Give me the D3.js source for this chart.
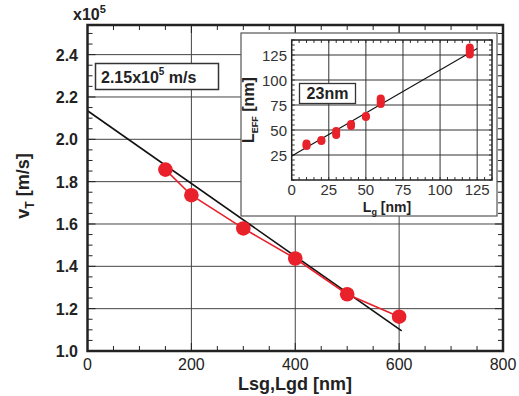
<!DOCTYPE html>
<html>
<head>
<meta charset="utf-8">
<style>
body { margin: 0; background: #fff; }
svg { font-family: "Liberation Sans", Arial, sans-serif; }
</style>
<script src="https://cdn.jsdelivr.net/npm/d3@7"></script>
</head>
<body>
<svg id="chart" width="519" height="396"></svg>
<script>
// main plot data
var lengths = [150, 200, 300, 400, 500, 600];
var vt = [1.857, 1.736, 1.579, 1.437, 1.268, 1.162];
var fitX = [0, 605];
var fitY = [2.135, 1.095];
var xTicks = [0, 200, 400, 600, 800];
var yTicks = [1.0, 1.2, 1.4, 1.6, 1.8, 2.0, 2.2, 2.4];

// inset data (several measurements per gate length)
var lg = [10, 10, 10, 20, 20, 30, 30, 30, 40, 40, 50, 50, 60, 60, 60, 60, 120, 120, 120, 120];
var leff = [34, 35, 36.5, 39, 40, 45, 47, 49, 54, 56, 63, 64, 76, 78, 80, 81.5, 125.5, 128, 130.5, 132.5];
var insetFitX = [0, 125];
var insetFitY = [24, 131.5];
var insetTicks = [0, 25, 50, 75, 100, 125];

var red = "#e8212b";
var svg = d3.select("#chart");

var x = d3.scaleLinear().domain([0, 800]).range([87.5, 503]);
var y = d3.scaleLinear().domain([1.0, 2.54]).range([351, 25]);

// gridlines
var g = svg.append("g");
g.selectAll(".gx").data([200, 400, 600]).enter().append("line")
  .attr("x1", d => x(d)).attr("x2", d => x(d))
  .attr("y1", y.range()[0]).attr("y2", y.range()[1])
  .attr("stroke", "#444").attr("stroke-width", 1);
g.selectAll(".gy").data(yTicks.slice(1)).enter().append("line")
  .attr("x1", x.range()[0]).attr("x2", x.range()[1])
  .attr("y1", d => y(d)).attr("y2", d => y(d))
  .attr("stroke", "#444").attr("stroke-width", 1);

// minor ticks on all four sides, pointing in
var xMinor = d3.range(0, 801, 50);
var yMinor = d3.range(1.0, 2.54, 0.05);
g.selectAll(".tb").data(xMinor).enter().append("line")
  .attr("x1", d => x(d)).attr("x2", d => x(d))
  .attr("y1", 351).attr("y2", d => d % 200 == 0 ? 351 - 8 : 351 - 5)
  .attr("stroke", "#222");
g.selectAll(".tt").data(xMinor).enter().append("line")
  .attr("x1", d => x(d)).attr("x2", d => x(d))
  .attr("y1", 25).attr("y2", d => d % 200 == 0 ? 25 + 8 : 25 + 5)
  .attr("stroke", "#222");
g.selectAll(".tl").data(yMinor).enter().append("line")
  .attr("x1", 87.5).attr("x2", (d, i) => i % 4 == 0 ? 87.5 + 8 : 87.5 + 5)
  .attr("y1", d => y(d)).attr("y2", d => y(d))
  .attr("stroke", "#222");
g.selectAll(".tr").data(yMinor).enter().append("line")
  .attr("x1", 503).attr("x2", (d, i) => i % 4 == 0 ? 503 - 8 : 503 - 5)
  .attr("y1", d => y(d)).attr("y2", d => y(d))
  .attr("stroke", "#222");

// fit line and data
svg.append("line")
  .attr("x1", x(fitX[0])).attr("y1", y(fitY[0]))
  .attr("x2", x(fitX[1])).attr("y2", y(fitY[1]))
  .attr("stroke", "#111").attr("stroke-width", 1.6);
svg.append("path")
  .attr("d", d3.line().x(d => x(d[0])).y(d => y(d[1]))(lengths.map((d, i) => [d, vt[i]])))
  .attr("fill", "none").attr("stroke", red).attr("stroke-width", 1.6);
svg.selectAll(".pt").data(lengths).enter().append("circle")
  .attr("cx", d => x(d)).attr("cy", (d, i) => y(vt[i])).attr("r", 7.3)
  .attr("fill", red);

// frame
svg.append("rect").attr("x", 87.5).attr("y", 25).attr("width", 503 - 87.5).attr("height", 326)
  .attr("fill", "none").attr("stroke", "#222").attr("stroke-width", 2.5);

// tick labels
svg.selectAll(".xl").data(xTicks).enter().append("text")
  .attr("x", d => x(d)).attr("y", 370).attr("text-anchor", "middle")
  .attr("font-size", 16).attr("fill", "#222").text(d => d);
svg.selectAll(".yl").data(yTicks).enter().append("text")
  .attr("x", 78).attr("y", d => y(d) + 6).attr("text-anchor", "end")
  .attr("font-size", 16).attr("font-weight", "bold").attr("fill", "#222").text(d => d.toFixed(1));

// axis titles
svg.append("text").attr("x", 295).attr("y", 390).attr("text-anchor", "middle")
  .attr("font-size", 18).attr("font-weight", "bold").attr("fill", "#222").text("Lsg,Lgd [nm]");
var yt = svg.append("text").attr("transform", "translate(29,186) rotate(-90)")
  .attr("text-anchor", "middle").attr("font-size", 18).attr("font-weight", "bold").attr("fill", "#222");
yt.append("tspan").text("v");
yt.append("tspan").attr("font-size", 12).attr("dy", 5).text("T");
yt.append("tspan").attr("dy", -5).text(" [m/s]");
var ex = svg.append("text").attr("x", 73).attr("y", 20).attr("font-size", 16).attr("font-weight", "bold").attr("fill", "#222");
ex.append("tspan").text("x10");
ex.append("tspan").attr("font-size", 11).attr("dy", -7).text("5");

// label box
svg.append("rect").attr("x", 95.5).attr("y", 63.5).attr("width", 123).attr("height", 26)
  .attr("fill", "#fff").attr("stroke", "#333").attr("stroke-width", 1.5);
var lb = svg.append("text").attr("x", 101).attr("y", 83).attr("font-size", 16).attr("font-weight", "bold").attr("fill", "#222");
lb.append("tspan").text("2.15x10");
lb.append("tspan").attr("font-size", 10).attr("dy", -8).text("5");
lb.append("tspan").attr("dy", 8).text(" m/s");

// ---- inset ----
svg.append("rect").attr("x", 241).attr("y", 33).attr("width", 256).attr("height", 183)
  .attr("fill", "#fff").attr("stroke", "#555").attr("stroke-width", 1.2);

var ix = d3.scaleLinear().domain([0, 135]).range([291.7, 492]);
var iy = d3.scaleLinear().domain([0, 140]).range([180, 40]);
var ig = svg.append("g");
ig.selectAll(".igx").data(insetTicks.slice(1)).enter().append("line")
  .attr("x1", d => ix(d)).attr("x2", d => ix(d)).attr("y1", 180).attr("y2", 40)
  .attr("stroke", "#333");
ig.selectAll(".igy").data(insetTicks.slice(1)).enter().append("line")
  .attr("x1", ix.range()[0]).attr("x2", ix.range()[1]).attr("y1", d => iy(d)).attr("y2", d => iy(d))
  .attr("stroke", "#333");
var ixMinor = d3.range(0, 136, 5);
var iyMinor = d3.range(0, 141, 5);
ig.selectAll(".itb").data(ixMinor).enter().append("line")
  .attr("x1", d => ix(d)).attr("x2", d => ix(d)).attr("y1", 180).attr("y2", 177).attr("stroke", "#333");
ig.selectAll(".itt").data(ixMinor).enter().append("line")
  .attr("x1", d => ix(d)).attr("x2", d => ix(d)).attr("y1", 40).attr("y2", 43).attr("stroke", "#333");
ig.selectAll(".itl").data(iyMinor).enter().append("line")
  .attr("x1", ix.range()[0]).attr("x2", ix.range()[0] + 3).attr("y1", d => iy(d)).attr("y2", d => iy(d)).attr("stroke", "#333");
ig.selectAll(".itr").data(iyMinor).enter().append("line")
  .attr("x1", ix.range()[1]).attr("x2", ix.range()[1] - 3).attr("y1", d => iy(d)).attr("y2", d => iy(d)).attr("stroke", "#333");

ig.append("line")
  .attr("x1", ix(insetFitX[0])).attr("y1", iy(insetFitY[0]))
  .attr("x2", ix(insetFitX[1])).attr("y2", iy(insetFitY[1]))
  .attr("stroke", "#111").attr("stroke-width", 1.1);
ig.selectAll(".ipt").data(lg).enter().append("circle")
  .attr("cx", d => ix(d)).attr("cy", (d, i) => iy(leff[i])).attr("r", 4)
  .attr("fill", red);

ig.append("rect").attr("x", 291.7).attr("y", 40).attr("width", 492 - 291.7).attr("height", 140)
  .attr("fill", "none").attr("stroke", "#222").attr("stroke-width", 1.5);

ig.selectAll(".ixl").data(insetTicks).enter().append("text")
  .attr("x", d => ix(d)).attr("y", 194.5).attr("text-anchor", "middle")
  .attr("font-size", 15).attr("fill", "#333").text(d => d);
ig.selectAll(".iyl").data(insetTicks.slice(1)).enter().append("text")
  .attr("x", 287).attr("y", d => iy(d) + 5.5).attr("text-anchor", "end")
  .attr("font-size", 15).attr("fill", "#333").text(d => d);

var lt = ig.append("text").attr("x", 387).attr("y", 212).attr("text-anchor", "middle")
  .attr("font-size", 14).attr("font-weight", "bold").attr("fill", "#222");
lt.append("tspan").text("L");
lt.append("tspan").attr("font-size", 9).attr("dy", 3).text("g");
lt.append("tspan").attr("dy", -3).text(" [nm]");
var le = ig.append("text").attr("transform", "translate(254,110) rotate(-90)").attr("text-anchor", "middle")
  .attr("font-size", 16).attr("font-weight", "bold").attr("fill", "#222");
le.append("tspan").text("L");
le.append("tspan").attr("font-size", 9).attr("dy", 4).text("EFF");
le.append("tspan").attr("dy", -4).text(" [nm]");

ig.append("rect").attr("x", 299.5).attr("y", 83.5).attr("width", 56).attr("height", 20)
  .attr("fill", "#fff").attr("stroke", "#333").attr("stroke-width", 1.3);
ig.append("text").attr("x", 327.5).attr("y", 99).attr("text-anchor", "middle")
  .attr("font-size", 16).attr("font-weight", "bold").attr("fill", "#222").text("23nm");
</script>
</body>
</html>
